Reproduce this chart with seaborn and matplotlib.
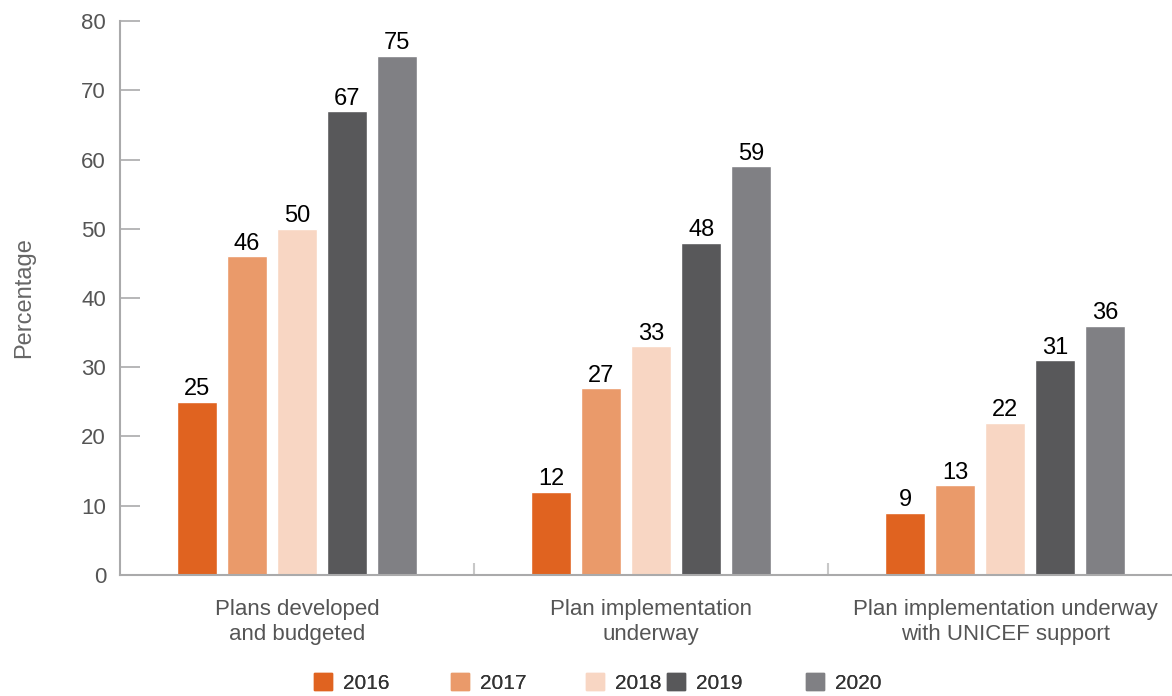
import seaborn as sns
import pandas as pd
import matplotlib.pyplot as plt

categories = ["Plans developed\nand budgeted", "Plan implementation\nunderway",
              "Plan implementation underway\nwith UNICEF support"]
years = ["2016", "2017", "2018", "2019", "2020"]
values = {
    "2016": [25, 12, 9],
    "2017": [46, 27, 13],
    "2018": [50, 33, 22],
    "2019": [67, 48, 31],
    "2020": [75, 59, 36],
}
colors = ["#E06320", "#EA9A6A", "#F8D6C3", "#58585A", "#808084"]

rows = []
for y in years:
    for c, v in zip(categories, values[y]):
        rows.append({"category": c, "year": y, "value": v})
df = pd.DataFrame(rows)

sns.set_style("white")
plt.rcParams["font.family"] = ["Liberation Sans", "DejaVu Sans"]

fig = plt.figure(figsize=(11.72, 6.96), dpi=100)
ax = fig.add_axes([0.1024, 0.1739, 0.905, 0.7959])

sns.barplot(data=df, x="category", y="value", hue="year", order=categories,
            hue_order=years, palette=colors, width=0.706, gap=0.2,
            saturation=1, legend=False, ax=ax)

for cont in ax.containers:
    ax.bar_label(cont, fontsize=17, color="black", padding=1)

ax.set_ylim(0, 80)
ax.set_xlim(-0.5, 2.495)
ax.set_yticks(range(0, 81, 10))
ax.set_xlabel("")
ax.set_ylabel("Percentage", fontsize=17, color="#666666", labelpad=33)

for s in ["top", "right"]:
    ax.spines[s].set_visible(False)
for s in ["left", "bottom"]:
    ax.spines[s].set_color("#AAAAAB")
    ax.spines[s].set_linewidth(1.5)

ax.tick_params(axis="y", direction="in", length=14.5, width=1.2, color="#AAAAAB",
               labelsize=16, labelcolor="#555555", pad=10, left=True)
ax.tick_params(axis="x", length=0, labelsize=16, labelcolor="#555555", pad=17)
for t in ax.get_xticklabels():
    t.set_linespacing(1.25)
ax.set_xticks([0.5, 1.5], minor=True)
ax.tick_params(axis="x", which="minor", direction="in", length=9, width=1.5,
               color="#C8C8C8", bottom=True)

# legend entries placed individually to mimic the uneven spacing
legend_x = [314, 451, 586, 667, 806]
for c, y, x in zip(colors, years, legend_x):
    h = plt.Rectangle((0, 0), 1, 1, color=c)
    lg = fig.legend([h], [y], loc="center left",
                    bbox_to_anchor=(x / 1172 - 0.007, 13 / 696),
                    frameon=False, fontsize=15, handlelength=0.85, handleheight=0.85,
                    handletextpad=0.55, labelcolor="#333333", borderaxespad=0)
    fig.add_artist(lg)

fig.savefig("out.png", dpi=100)
